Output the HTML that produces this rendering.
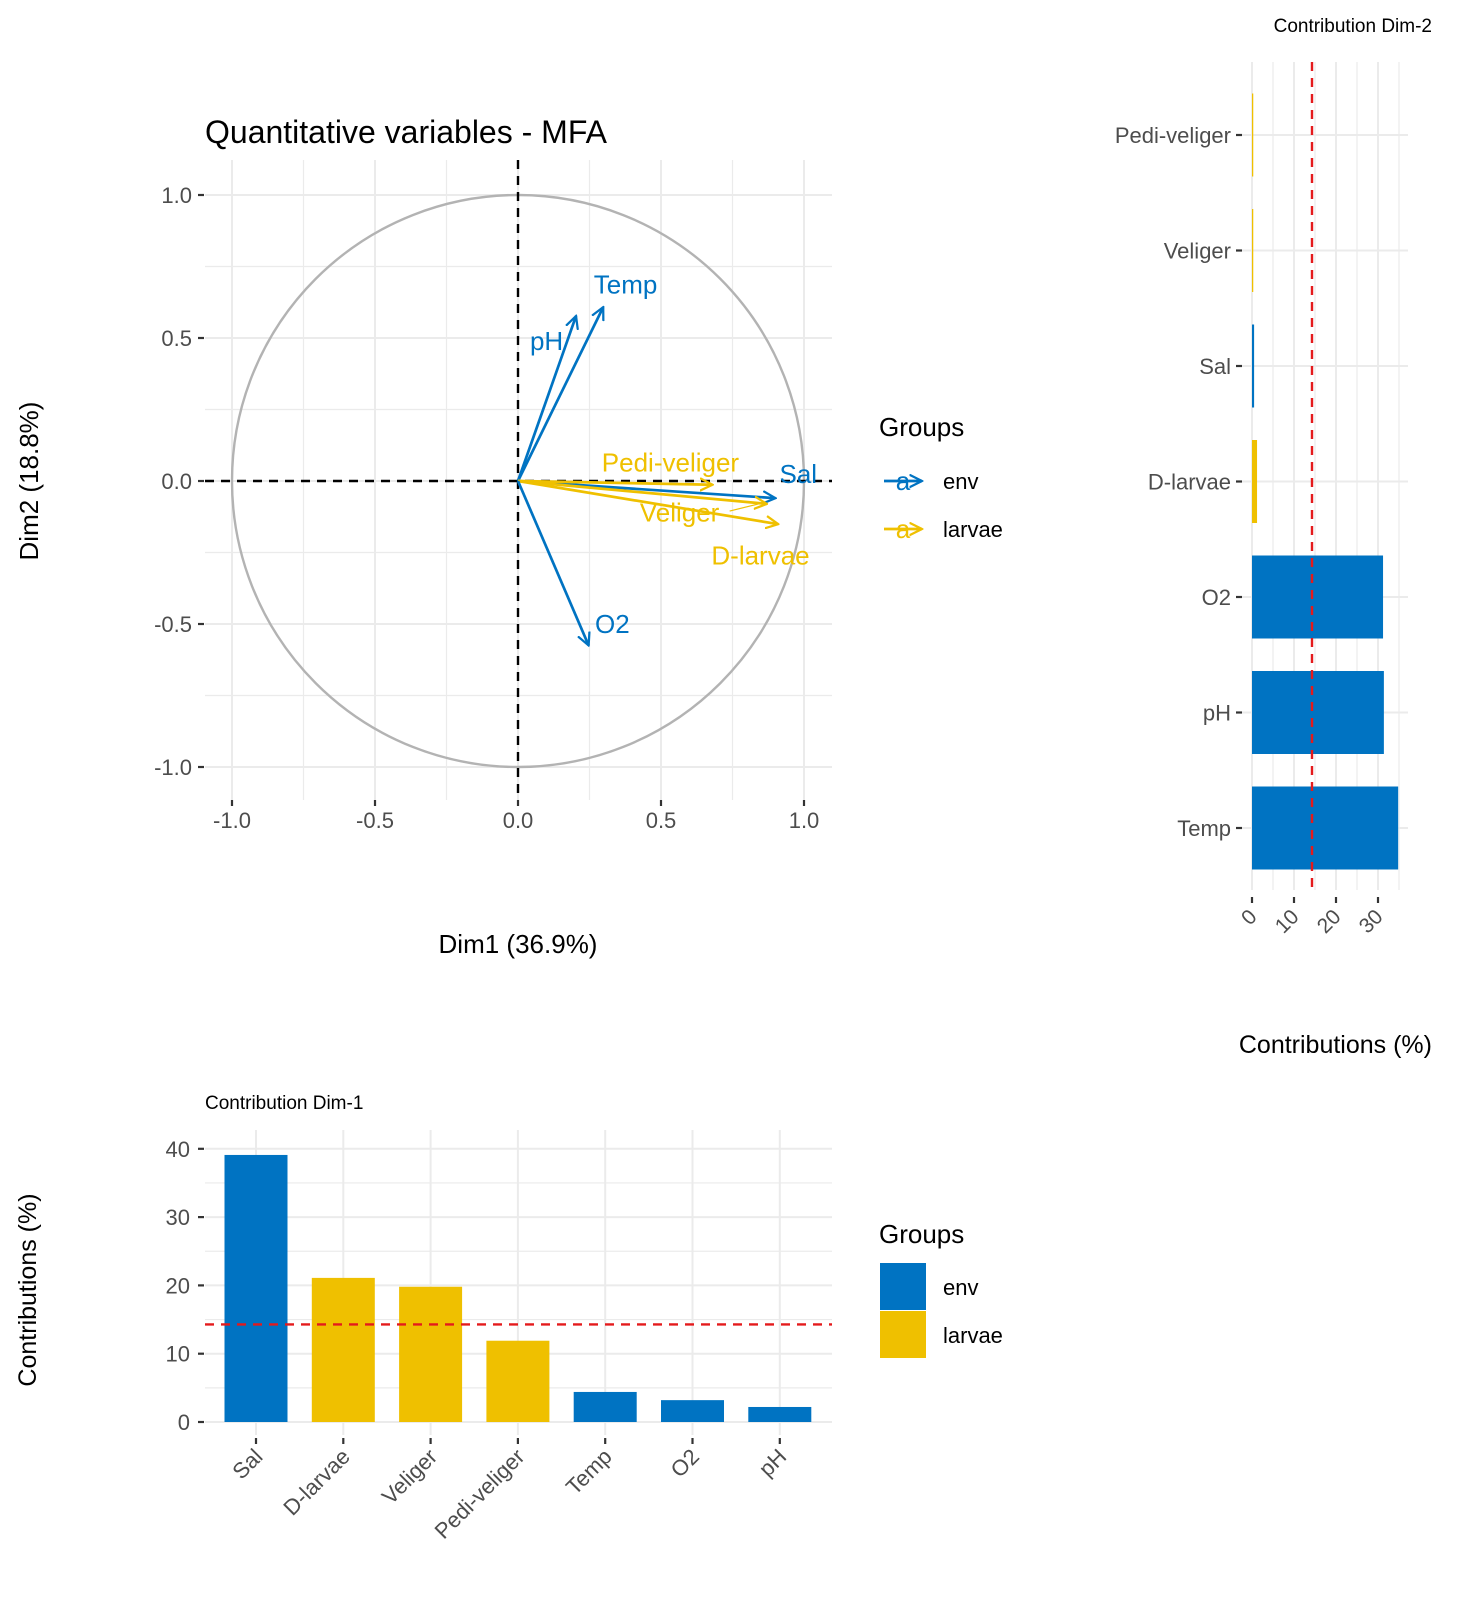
<!DOCTYPE html>
<html><head><meta charset="utf-8"><style>
body{margin:0;background:#fff;}
svg{display:block;font-family:"Liberation Sans",Arial,sans-serif;}
</style></head><body>
<svg id="s" width="1476" height="1600" viewBox="0 0 1476 1600" xmlns="http://www.w3.org/2000/svg">
<defs>
<marker id="ab" viewBox="0 0 10 10" refX="9" refY="5" markerWidth="14" markerHeight="14" orient="auto" markerUnits="userSpaceOnUse"><path d="M0,0.5 L9,5 L0,9.5" fill="none" stroke="#0073C2" stroke-width="1.6"/></marker>
<marker id="ay" viewBox="0 0 10 10" refX="9" refY="5" markerWidth="14" markerHeight="14" orient="auto" markerUnits="userSpaceOnUse"><path d="M0,0.5 L9,5 L0,9.5" fill="none" stroke="#EFC000" stroke-width="1.6"/></marker>
</defs>
<g id="main"></g>
<g id="right"></g>
<g id="bottom"></g>
</svg>
<script>
const ENV="#0073C2", LAR="#EFC000";
// correlation circle data
const varNames=["Temp","pH","Sal","Pedi-veliger","Veliger","D-larvae","O2"];
const varGroups=["env","env","env","larvae","larvae","larvae","env"];
const dim1=[0.298,0.203,0.90,0.68,0.87,0.91,0.247];
const dim2=[0.608,0.577,-0.06,-0.013,-0.08,-0.151,-0.575];
const labX=[0.376,0.10,0.98,0.533,0.565,0.848,0.33];
const labY=[0.687,0.49,0.025,0.065,-0.11,-0.26,-0.50];
const circTicks=[-1,-0.5,0,0.5,1];
const circTickLabels=["-1.0","-0.5","0.0","0.5","1.0"];
// dim2 contributions
const d2Cats=["Pedi-veliger","Veliger","Sal","D-larvae","O2","pH","Temp"];
const d2Groups=["larvae","larvae","env","larvae","env","env","env"];
const d2Vals=[0.3,0.3,0.5,1.2,31.2,31.4,34.8];
const d2Ticks=[0,10,20,30];
// dim1 contributions
const d1Cats=["Sal","D-larvae","Veliger","Pedi-veliger","Temp","O2","pH"];
const d1Groups=["env","larvae","larvae","larvae","env","env","env"];
const d1Vals=[39.1,21.1,19.8,11.9,4.4,3.2,2.2];
const d1Ticks=[0,10,20,30,40];
const refLine=100/7;

const NS="http://www.w3.org/2000/svg";
function el(p,tag,a,txt){const e=document.createElementNS(NS,tag);for(const k in a)e.setAttribute(k,a[k]);if(txt!=null)e.textContent=txt;p.appendChild(e);return e;}
const col=g=>g==="env"?ENV:LAR;

// ---------- main plot ----------
const M=document.getElementById("main");
const sx=v=>518+v*286, sy=v=>481-v*286;
for(const g of [-0.75,-0.25,0.25,0.75]){
 let l=el(M,"line",{x1:sx(g),x2:sx(g),y1:160,y2:800,stroke:"#ebebeb","stroke-width":1.2});
 
 l=el(M,"line",{x1:205,x2:832,y1:sy(g),y2:sy(g),stroke:"#ebebeb","stroke-width":1.2});
 
}
circTicks.forEach((t,i)=>{
 let l=el(M,"line",{x1:sx(t),x2:sx(t),y1:160,y2:800,stroke:"#ebebeb","stroke-width":2});
 
 l=el(M,"line",{x1:205,x2:832,y1:sy(t),y2:sy(t),stroke:"#ebebeb","stroke-width":2});
 
 el(M,"line",{x1:sx(t),x2:sx(t),y1:800,y2:806,stroke:"#333","stroke-width":2.2});
 el(M,"line",{x1:198,x2:204,y1:sy(t),y2:sy(t),stroke:"#333","stroke-width":2.2});
 let tx=el(M,"text",{x:sx(t),y:828,"text-anchor":"middle","font-size":22,fill:"#4d4d4d"},circTickLabels[i]);
 
 tx=el(M,"text",{x:192,y:sy(t)+8,"text-anchor":"end","font-size":22,fill:"#4d4d4d"},circTickLabels[i]);
 
});
let c=el(M,"circle",{cx:sx(0),cy:sy(0),r:286,fill:"none",stroke:"#b3b3b3","stroke-width":2.4});

el(M,"line",{x1:205,x2:832,y1:sy(0),y2:sy(0),stroke:"#000","stroke-width":2.4,"stroke-dasharray":"9,7"});
el(M,"line",{x1:sx(0),x2:sx(0),y1:160,y2:800,stroke:"#000","stroke-width":2.4,"stroke-dasharray":"9,7"});
varNames.forEach((n,i)=>{
 const a=el(M,"line",{x1:sx(0),y1:sy(0),x2:sx(dim1[i]),y2:sy(dim2[i]),stroke:col(varGroups[i]),"stroke-width":2.7,"marker-end":varGroups[i]==="env"?"url(#ab)":"url(#ay)"});
 
 const t=el(M,"text",{x:sx(labX[i]),y:sy(labY[i])+9,"text-anchor":"middle","font-size":26,fill:col(varGroups[i])},n);
 
});
// veliger connector
el(M,"line",{x1:sx(0.74),y1:sy(-0.105),x2:sx(0.85),y2:sy(-0.078),stroke:LAR,"stroke-width":1.2});
let t=el(M,"text",{x:205,y:143,"font-size":32,fill:"#000"},"Quantitative variables - MFA");

t=el(M,"text",{x:518,y:953,"text-anchor":"middle","font-size":26,fill:"#000"},"Dim1 (36.9%)");

t=el(M,"text",{x:38,y:481,"text-anchor":"middle","font-size":26,fill:"#000",transform:"rotate(-90 38 481)"},"Dim2 (18.8%)");

// legend (arrows)
t=el(M,"text",{x:879,y:436,"font-size":26,fill:"#000"},"Groups");

[["env",ENV,481],["larvae",LAR,529]].forEach(([n,cc,y])=>{
 const g=el(M,"g",{});
 
 el(g,"line",{x1:884,y1:y,x2:922,y2:y,stroke:cc,"stroke-width":2.7,"marker-end":n==="env"?"url(#ab)":"url(#ay)"});
 el(g,"text",{x:903,y:y+9,"text-anchor":"middle","font-size":26,fill:cc},"a");
 el(g,"text",{x:943,y:y+8,"font-size":22,fill:"#000"},n);
});

// ---------- right chart (Dim-2) ----------
const R=document.getElementById("right");
const rx=v=>1252+v*4.2, ry=i=>135+i*115.5;
for(const v of [5,15,25,35]){el(R,"line",{x1:rx(v),x2:rx(v),y1:62,y2:890,stroke:"#ebebeb","stroke-width":1.2});}
d2Ticks.forEach(v=>{
 el(R,"line",{x1:rx(v),x2:rx(v),y1:62,y2:890,stroke:"#ebebeb","stroke-width":2});
 el(R,"line",{x1:rx(v),x2:rx(v),y1:897,y2:903,stroke:"#333","stroke-width":2.2});
 const tt=el(R,"text",{x:rx(v)+6,y:918,"text-anchor":"end","font-size":21,fill:"#4d4d4d",transform:`rotate(-45 ${rx(v)+6} 918)`},String(v));
 
});
d2Cats.forEach((n,i)=>{
 el(R,"line",{x1:1242,x2:1408,y1:ry(i),y2:ry(i),stroke:"#ebebeb","stroke-width":2});
 el(R,"line",{x1:1236,x2:1242,y1:ry(i),y2:ry(i),stroke:"#333","stroke-width":2.2});
 const tt=el(R,"text",{x:1231,y:ry(i)+8,"text-anchor":"end","font-size":22,fill:"#4d4d4d"},n);
 
});
d2Cats.forEach((n,i)=>{
 const b=el(R,"rect",{x:rx(0),y:ry(i)-41.5,width:rx(d2Vals[i])-rx(0),height:83,fill:col(d2Groups[i])});
 
});
el(R,"line",{x1:rx(refLine),x2:rx(refLine),y1:62,y2:890,stroke:"#e41a1c","stroke-width":2.4,"stroke-dasharray":"9,7"});
t=el(R,"text",{x:1432,y:32,"text-anchor":"end","font-size":19,fill:"#000"},"Contribution Dim-2");

t=el(R,"text",{x:1432,y:1053,"text-anchor":"end","font-size":25,fill:"#000"},"Contributions (%)");


// ---------- bottom chart (Dim-1) ----------
const B=document.getElementById("bottom");
const by=v=>1422-v*6.83, bx=i=>256+i*87.3;
for(const v of [5,15,25,35]){el(B,"line",{x1:205,x2:832,y1:by(v),y2:by(v),stroke:"#ebebeb","stroke-width":1.2});}
d1Ticks.forEach(v=>{
 el(B,"line",{x1:205,x2:832,y1:by(v),y2:by(v),stroke:"#ebebeb","stroke-width":2});
 el(B,"line",{x1:198,x2:204,y1:by(v),y2:by(v),stroke:"#333","stroke-width":2.2});
 const tt=el(B,"text",{x:190,y:by(v)+8,"text-anchor":"end","font-size":22,fill:"#4d4d4d"},String(v));
 
});
d1Cats.forEach((n,i)=>{
 el(B,"line",{x1:bx(i),x2:bx(i),y1:1130,y2:1435,stroke:"#ebebeb","stroke-width":2});
 el(B,"line",{x1:bx(i),x2:bx(i),y1:1438,y2:1444,stroke:"#333","stroke-width":2.2});
 const tt=el(B,"text",{x:bx(i)+8,y:1458,"text-anchor":"end","font-size":22,fill:"#4d4d4d",transform:`rotate(-45 ${bx(i)+8} 1458)`},n);
 
});
d1Cats.forEach((n,i)=>{
 const b=el(B,"rect",{x:bx(i)-31.5,y:by(d1Vals[i]),width:63,height:by(0)-by(d1Vals[i]),fill:col(d1Groups[i])});
 
});
el(B,"line",{x1:205,x2:832,y1:by(refLine),y2:by(refLine),stroke:"#e41a1c","stroke-width":2.4,"stroke-dasharray":"9,7"});
t=el(B,"text",{x:205,y:1109,"font-size":19,fill:"#000"},"Contribution Dim-1");

t=el(B,"text",{x:36,y:1290,"text-anchor":"middle","font-size":25,fill:"#000",transform:"rotate(-90 36 1290)"},"Contributions (%)");

t=el(B,"text",{x:879,y:1243,"font-size":26,fill:"#000"},"Groups");

[["env",ENV,1263],["larvae",LAR,1311]].forEach(([n,cc,y])=>{
 const g=el(B,"g",{});
 
 el(g,"rect",{x:880,y:y,width:46,height:47,fill:cc});
 el(g,"text",{x:943,y:y+32,"font-size":22,fill:"#000"},n);
});
</script>
</body></html>
